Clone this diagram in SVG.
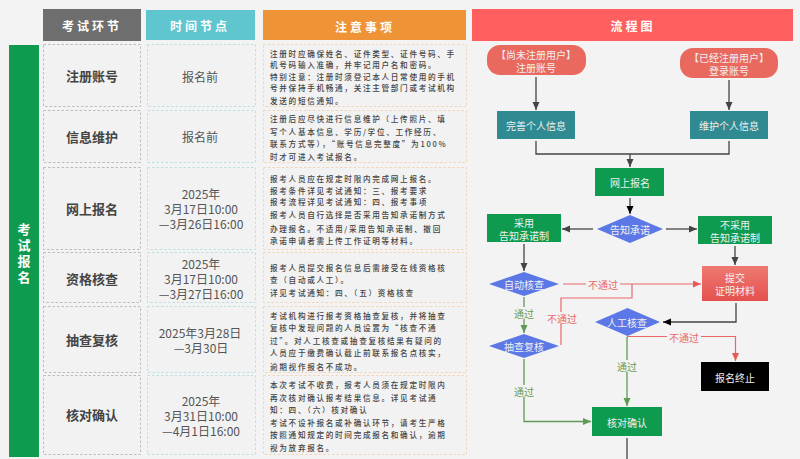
<svg xmlns="http://www.w3.org/2000/svg" width="800" height="459" viewBox="0 0 800 459">
<style>
text{font-family:"Noto Sans CJK SC","Noto Sans",sans-serif;text-anchor:middle;dominant-baseline:central}
.h{font-size:12px;font-weight:700;fill:#fff;letter-spacing:3px}
.c1,.c2,.c3{fill:#f2f2f2;stroke-width:1;stroke-dasharray:2.5 2}
.c1{stroke:#bdbdbd}.c2{stroke:#bfe0e0}.c3{stroke:#f3d6b8}
.l{font-size:13px;font-weight:700;fill:#444}
.t{font-size:12px;fill:#555}
.n{font-size:7.6px;fill:#444;text-anchor:start;letter-spacing:1.7px;font-weight:500}
.f{font-size:10px;fill:#f0f0f0}
.dk{fill:none;stroke:#444;stroke-width:1.3}
.gr{fill:none;stroke:#5f9a55;stroke-width:1.3}
.rd{fill:none;stroke:#e8686a;stroke-width:1.2}
.gl{font-size:10px;fill:#6a9a55}
.rl{font-size:10px;fill:#e8686a}
.green{fill:#0f9b4f}.teal{fill:#2f8a92}.pill{fill:#e9695f}.dia{fill:#5b78e6}
</style>
<defs>
<marker id="ad" markerUnits="userSpaceOnUse" markerWidth="9" markerHeight="8" refX="8" refY="3.500" orient="auto"><path d="M0 0L8 3.500L0 7Z" fill="#444"/></marker>
<marker id="ak" markerUnits="userSpaceOnUse" markerWidth="9" markerHeight="8" refX="8" refY="3.500" orient="auto"><path d="M0 0L8 3.500L0 7Z" fill="#000"/></marker>
<marker id="ag" markerUnits="userSpaceOnUse" markerWidth="9" markerHeight="8" refX="8" refY="3.500" orient="auto"><path d="M0 0L8 3.500L0 7Z" fill="#5f9a55"/></marker>
<marker id="ar" markerUnits="userSpaceOnUse" markerWidth="9" markerHeight="8" refX="8" refY="3.500" orient="auto"><path d="M0 0L8 3.500L0 7Z" fill="#e8585a"/></marker>
<linearGradient id="red" x1="0" y1="0" x2="0" y2="1"><stop offset="0" stop-color="#ee7a72"/><stop offset="1" stop-color="#e5504e"/></linearGradient>
</defs>
<rect width="800" height="459" fill="#f3f3f3"/>
<g id="headers">
<rect x="43" y="9" width="98" height="32" fill="#6e6e6e"/><text class="h" x="92" y="25">考试环节</text>
<rect x="146" y="10" width="109" height="30" fill="#5fc6cf"/><text class="h" x="200" y="25">时间节点</text>
<rect x="263" y="10" width="203" height="30" fill="#ef9337"/><text class="h" x="365" y="26">注意事项</text>
<rect x="472" y="9" width="321" height="32" fill="#ff5f5f"/><text class="h" x="633" y="25">流程图</text>
</g>
<g id="stage">
<rect x="9" y="45" width="30" height="412" fill="#0f9b4f"/>
<text font-size="13" font-weight="700" fill="#fff"><tspan x="24" y="228">考</tspan><tspan x="24" y="244">试</tspan><tspan x="24" y="260">报</tspan><tspan x="24" y="276">名</tspan></text>
</g>
<g id="row1">
<rect class="c1" x="43.500" y="44.500" width="97" height="62"/><text class="l" x="92" y="75">注册账号</text>
<rect class="c2" x="147.500" y="44.500" width="108" height="62"/><text class="t" x="200" y="76">报名前</text>
<rect class="c3" x="263.500" y="44.500" width="203" height="62"/>
<text class="n"><tspan x="270" y="53">注册时应确保姓名、证件类型、证件号码、手</tspan><tspan x="270" y="64">机号码输入准确，并牢记用户名和密码。</tspan><tspan x="270" y="76">特别注意：注册时须登记本人日常使用的手机</tspan><tspan x="270" y="87">号并保持手机畅通，关注主管部门或考试机构</tspan><tspan x="270" y="100">发送的短信通知。</tspan></text>
</g>
<g id="row2">
<rect class="c1" x="43.500" y="110.500" width="97" height="52"/><text class="l" x="92" y="136">信息维护</text>
<rect class="c2" x="147.500" y="110.500" width="108" height="52"/><text class="t" x="200" y="136">报名前</text>
<rect class="c3" x="263.500" y="110.500" width="203" height="52"/>
<text class="n"><tspan x="270" y="118">注册后应尽快进行信息维护（上传照片、填</tspan><tspan x="270" y="131">写个人基本信息、学历/学位、工作经历、</tspan><tspan x="270" y="143">联系方式等），“账号信息完整度”为100%</tspan><tspan x="270" y="156">时才可进入考试报名。</tspan></text>
</g>
<g id="row3">
<rect class="c1" x="43.500" y="167.500" width="97" height="82"/><text class="l" x="92" y="208">网上报名</text>
<rect class="c2" x="147.500" y="167.500" width="108" height="82"/>
<text class="t"><tspan x="201" y="193">2025年</tspan><tspan x="201" y="208">3月17日10:00</tspan><tspan x="201" y="223">—3月26日16:00</tspan></text>
<rect class="c3" x="263.500" y="167.500" width="203" height="82"/>
<text class="n"><tspan x="270" y="178">报考人员应在规定时限内完成网上报名。</tspan><tspan x="270" y="190">报考条件详见考试通知：三、报考要求</tspan><tspan x="270" y="201">报考流程详见考试通知：四、报考事项</tspan><tspan x="270" y="214">报考人员自行选择是否采用告知承诺制方式</tspan><tspan x="270" y="228">办理报名。不适用/采用告知承诺制、撤回</tspan><tspan x="270" y="240">承诺申请者需上传工作证明等材料。</tspan></text>
</g>
<g id="row4">
<rect class="c1" x="43.500" y="252.500" width="97" height="50"/><text class="l" x="92" y="278">资格核查</text>
<rect class="c2" x="147.500" y="252.500" width="108" height="50"/>
<text class="t"><tspan x="201" y="263">2025年</tspan><tspan x="201" y="278">3月17日10:00</tspan><tspan x="201" y="293">—3月27日16:00</tspan></text>
<rect class="c3" x="263.500" y="252.500" width="203" height="50"/>
<text class="n"><tspan x="270" y="267">报考人员提交报名信息后需接受在线资格核</tspan><tspan x="270" y="279">查（自动或人工）。</tspan><tspan x="270" y="292">详见考试通知：四、（五）资格核查</tspan></text>
</g>
<g id="row5">
<rect class="c1" x="43.500" y="306.500" width="97" height="66"/><text class="l" x="92" y="339">抽查复核</text>
<rect class="c2" x="147.500" y="306.500" width="108" height="66"/>
<text class="t"><tspan x="200" y="332">2025年3月28日</tspan><tspan x="201" y="347">—3月30日</tspan></text>
<rect class="c3" x="263.500" y="306.500" width="203" height="66"/>
<text class="n"><tspan x="270" y="315">考试机构进行报考资格抽查复核，并将抽查</tspan><tspan x="270" y="327">复核中发现问题的人员设置为“核查不通</tspan><tspan x="270" y="340">过”。对人工核查或抽查复核结果有疑问的</tspan><tspan x="270" y="352">人员应于缴费确认截止前联系报名点核实，</tspan><tspan x="270" y="366">逾期视作报名不成功。</tspan></text>
</g>
<g id="row6">
<rect class="c1" x="43.500" y="375.500" width="97" height="79"/><text class="l" x="92" y="414">核对确认</text>
<rect class="c2" x="147.500" y="375.500" width="108" height="79"/>
<text class="t"><tspan x="201" y="400">2025年</tspan><tspan x="201" y="415">3月31日10:00</tspan><tspan x="201" y="430">—4月1日16:00</tspan></text>
<rect class="c3" x="263.500" y="375.500" width="203" height="79"/>
<text class="n"><tspan x="270" y="384">本次考试不收费，报考人员须在规定时限内</tspan><tspan x="270" y="397">再次核对确认报考结果信息。详见考试通</tspan><tspan x="270" y="409">知：四、（六）核对确认</tspan><tspan x="270" y="422">考试不设补报名或补确认环节，请考生严格</tspan><tspan x="270" y="434">按照通知规定的时间完成报名和确认，逾期</tspan><tspan x="270" y="447">视为放弃报名。</tspan></text>
</g>
<g id="connectors">
<path class="dk" marker-end="url(#ad)" d="M536 77V110"/>
<path class="dk" marker-end="url(#ad)" d="M729 80V110"/>
<path class="dk" d="M536 141V154H729V141"/>
<path class="dk" marker-end="url(#ad)" d="M630 154V167"/>
<path class="dk" stroke-width="1.6" marker-end="url(#ak)" d="M630 198V214"/>
<path class="dk" marker-end="url(#ad)" d="M593 229H562"/>
<path class="dk" marker-end="url(#ad)" d="M666 229H697"/>
<path class="dk" marker-end="url(#ad)" d="M524 244V271"/>
<path class="dk" marker-end="url(#ad)" d="M735 246V265"/>
<path class="rd" marker-end="url(#ar)" d="M563 284H701"/>
<path class="rd" d="M632 284V298H561V345"/>
<path class="gr" marker-end="url(#ag)" d="M524 297V333"/>
<path class="gr" marker-end="url(#ag)" d="M524 359V421.500H591"/>
<path class="dk" marker-end="url(#ak)" d="M736 303V322H663"/>
<path class="rd" marker-end="url(#ar)" d="M627 336.500H735.500V361"/>
<path class="gr" marker-end="url(#ag)" d="M627 337V406"/>
<path class="dk" d="M627 438V459"/>
</g>
<g id="connector-labels">
<rect x="586" y="278" width="34" height="12" fill="#f3f3f3"/><text class="rl" x="603" y="284">不通过</text>
<rect x="546" y="312" width="32" height="12" fill="#f3f3f3"/><text class="rl" x="562" y="318">不通过</text>
<rect x="667" y="331" width="34" height="12" fill="#f3f3f3"/><text class="rl" x="684" y="337">不通过</text>
<rect x="513" y="307" width="22" height="12" fill="#f3f3f3"/><text class="gl" x="524" y="313">通过</text>
<rect x="513" y="385" width="22" height="12" fill="#f3f3f3"/><text class="gl" x="524" y="391">通过</text>
<rect x="616" y="360" width="22" height="12" fill="#f3f3f3"/><text class="gl" x="627" y="366">通过</text>
</g>
<g id="n-unreg"><rect class="pill" x="487" y="45" width="99" height="30" rx="13"/><text class="f"><tspan x="536" y="54">【尚未注册用户】</tspan><tspan x="536" y="67">注册账号</tspan></text></g>
<g id="n-reg"><rect class="pill" x="680" y="48" width="98" height="30" rx="13"/><text class="f"><tspan x="729" y="57">【已经注册用户】</tspan><tspan x="729" y="70">登录账号</tspan></text></g>
<g id="n-complete"><rect class="teal" x="497" y="111" width="78" height="28"/><text class="f" x="536" y="125">完善个人信息</text></g>
<g id="n-maintain"><rect class="teal" x="690" y="111" width="78" height="28"/><text class="f" x="729" y="125">维护个人信息</text></g>
<g id="n-online"><rect class="green" x="595" y="168" width="69" height="28"/><text class="f" x="630" y="182">网上报名</text></g>
<g id="n-promise"><polygon class="dia" points="597,229 630,215 663,229 630,243"/><text class="f" x="630" y="229">告知承诺</text></g>
<g id="n-adopt"><rect class="green" x="487" y="214" width="74" height="28"/><text class="f"><tspan x="524" y="222">采用</tspan><tspan x="524" y="235">告知承诺制</tspan></text></g>
<g id="n-noadopt"><rect class="green" x="698" y="216" width="74" height="28"/><text class="f"><tspan x="735" y="224">不采用</tspan><tspan x="735" y="237">告知承诺制</tspan></text></g>
<g id="n-auto"><polygon class="dia" points="489,284 524,272 559,284 524,296"/><text class="f" x="524" y="284">自动核查</text></g>
<g id="n-recheck"><polygon class="dia" points="489,346 524,334 559,346 524,358"/><text class="f" x="524" y="346">抽查复核</text></g>
<g id="n-submit"><rect x="702" y="266" width="66" height="35" fill="url(#red)"/><text class="f"><tspan x="735" y="277">提交</tspan><tspan x="735" y="290">证明材料</tspan></text></g>
<g id="n-manual"><polygon class="dia" points="595,322 627.500,308 660,322 627.500,336"/><text class="f" x="627" y="322">人工核查</text></g>
<g id="n-end"><rect x="701" y="362" width="68" height="29" fill="#000"/><text class="f" x="735" y="377">报名终止</text></g>
<g id="n-confirm"><rect class="green" x="592" y="407" width="70" height="29"/><text class="f" x="627" y="422">核对确认</text></g>
</svg>
